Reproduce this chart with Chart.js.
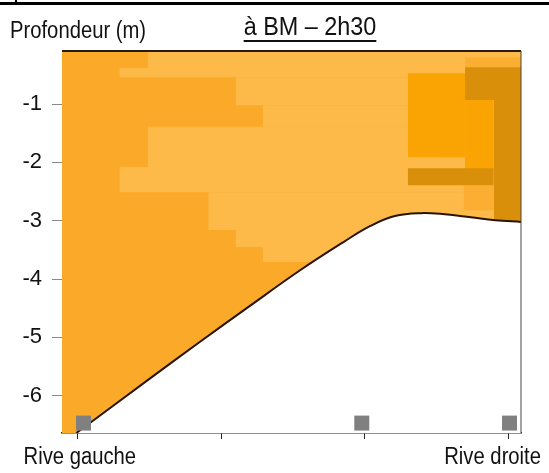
<!DOCTYPE html>
<html lang="fr">
<head>
<meta charset="utf-8">
<title>à BM – 2h30</title>
<script src="https://cdn.jsdelivr.net/npm/chart.js@4.4.1/dist/chart.umd.min.js"></script>
<style>
  body { margin: 0; background: #fff; }
  #wrap { position: relative; width: 549px; height: 473px; }
  #topRule { position: absolute; left: 0; top: 2px; width: 549px; height: 3px; background: #000; }
  #topStub { position: absolute; left: 15px; top: 0; width: 2px; height: 3px; background: #000; }
</style>
</head>
<body>
<div id="wrap">
  <canvas id="sectionChart" width="549" height="473"></canvas>
  <div id="topRule"></div>
  <div id="topStub"></div>
</div>
<script>
// Distance across the section (0 = left bank, 3 = right bank)
const xTicks = [0, 1, 2, 3];
const xTickLabels = ['Rive gauche', '', '', 'Rive droite'];
const depthTicks = [-1, -2, -3, -4, -5, -6];

// Bed profile (depth in m)
const bedX     = [-0.01, 0.49, 0.85, 1.20, 1.55, 1.85, 2.04, 2.21, 2.39, 2.56, 2.74, 2.91, 3.09];
const bedDepth = [-6.64, -5.73, -5.08, -4.46, -3.85, -3.37, -3.09, -2.92, -2.87, -2.89, -2.94, -2.99, -3.02];

// Measurement verticals (grey squares)
const probeX = [0.04, 1.98, 3.01];
const probeDepth = [-6.47, -6.47, -6.47];

// Velocity zones: [x from, x to, depth top, depth bottom, level]
// level 1 = slow (light), 2 = medium, 3 = fast, 4 = fastest (dark)
const zones = [
  [0.49, 3.09, -0.09, -0.54, 1],
  [0.29, 0.49, -0.38, -0.54, 1],
  [1.10, 3.09, -0.54, -1.02, 1],
  [1.29, 3.09, -1.02, -1.39, 1],
  [0.49, 3.09, -1.39, -2.08, 1],
  [0.29, 3.09, -2.08, -2.51, 1],
  [0.91, 3.09, -2.51, -3.16, 1],
  [1.10, 3.09, -3.16, -3.45, 1],
  [1.29, 3.09, -3.45, -3.71, 1],
  [2.70, 3.09, -0.20, -0.37, 2],
  [2.51, 2.70, -1.50, -1.91, 2],
  [2.69, 2.90, -2.39, -2.82, 2],
  [2.30, 2.70, -0.47, -1.91, 3],
  [2.70, 2.90, -0.93, -2.13, 3],
  [2.70, 3.09, -0.37, -0.93, 4],
  [2.90, 3.09, -0.93, -3.10, 4],
  [2.30, 2.90, -2.10, -2.39, 4]
];

const levelColors = ['#FAAA28', '#FDBA48', '#FCAE33', '#F9A402', '#D98F0A'];
const FONT = '"Liberation Sans", Arial, sans-serif';

let sectionChartInstance = null;

// Draw text squeezed horizontally (the original uses a narrow face)
function drawNarrowText(ctx, text, x, y, align, squeeze) {
  ctx.save();
  ctx.translate(x, y);
  ctx.scale(squeeze, 1);
  ctx.textAlign = align;
  ctx.fillText(text, 0, 0);
  ctx.restore();
}

// Background, frame and texts around the plot
const sectionFrame = {
  id: 'sectionFrame',
  beforeDatasetsDraw(chart) {
    const { ctx, chartArea: a } = chart;
    ctx.save();
    ctx.fillStyle = levelColors[0];
    ctx.fillRect(a.left, a.top, a.right - a.left, a.bottom - a.top);
    ctx.restore();
  },
  afterDatasetsDraw(chart) {
    const { ctx, chartArea: a } = chart;
    ctx.save();
    ctx.strokeStyle = '#2b1a0a';
    ctx.lineWidth = 2;
    ctx.beginPath();
    ctx.moveTo(a.left, a.top);
    ctx.lineTo(a.right, a.top);
    ctx.stroke();
    ctx.strokeStyle = '#444';
    ctx.lineWidth = 1;
    ctx.beginPath();
    ctx.moveTo(a.right, a.top);
    ctx.lineTo(a.right, a.bottom);
    ctx.stroke();
    ctx.restore();
  },
  afterDraw(chart) {
    const { ctx } = chart;
    const xScale = chart.scales.x;
    ctx.save();
    ctx.fillStyle = '#111';
    ctx.textBaseline = 'alphabetic';

    ctx.font = '23px ' + FONT;
    drawNarrowText(ctx, 'Profondeur (m)', 10, 38, 'left', 0.88);

    // underlined title
    ctx.font = '26px ' + FONT;
    const title = 'à BM – 2h30';
    const w = ctx.measureText(title).width * 0.9;
    drawNarrowText(ctx, title, 310, 35, 'center', 0.9);
    ctx.fillRect(310 - w / 2, 40, w, 2);

    // bank labels under the x ticks
    ctx.font = '23px ' + FONT;
    xTicks.forEach((v, i) => {
      const label = xTickLabels[i];
      if (!label) return;
      const px = xScale.getPixelForValue(v);
      if (i === xTicks.length - 1) {
        drawNarrowText(ctx, label, chart.width - 8, 464, 'right', 0.88);
      } else {
        drawNarrowText(ctx, label, px + 2, 464, 'center', 0.88);
      }
    });
    ctx.restore();
  }
};

function createSectionChart() {
  const ctx = document.getElementById('sectionChart').getContext('2d');

  if (sectionChartInstance !== null) {
    sectionChartInstance.destroy();
  }

  const zoneSets = zones.map((z, i) => ({
    data: [{ x: z[0], y: z[2] }, { x: z[1], y: z[2] }],
    fill: { value: z[3] },
    backgroundColor: levelColors[z[4]],
    borderWidth: 0,
    pointRadius: 0,
    order: 100 - i
  }));

  const bedSet = {
    data: bedX.map((x, i) => ({ x: x, y: bedDepth[i] })),
    fill: 'start',
    backgroundColor: '#ffffff',
    borderColor: '#2a1405',
    borderWidth: 2,
    pointRadius: 0,
    tension: 0.4,
    order: 1
  };

  const probeSet = {
    data: probeX.map((x, i) => ({ x: x, y: probeDepth[i] })),
    showLine: false,
    pointStyle: 'rect',
    pointRadius: 10.6,
    backgroundColor: '#808080',
    borderWidth: 0,
    order: 0
  };

  sectionChartInstance = new Chart(ctx, {
    type: 'line',
    data: { datasets: [probeSet, bedSet].concat(zoneSets) },
    options: {
      responsive: false,
      animation: false,
      layout: { padding: { top: 51, right: 28, bottom: 0, left: 0 } },
      plugins: {
        legend: { display: false },
        tooltip: { enabled: false },
        title: { display: false }
      },
      scales: {
        x: {
          type: 'linear',
          min: -0.11,
          max: 3.09,
          afterBuildTicks: axis => { axis.ticks = xTicks.map(v => ({ value: v })); },
          afterFit: axis => { axis.height = 40; },
          ticks: { display: false },
          grid: { display: true, drawOnChartArea: false, tickLength: 6, color: '#222' },
          border: { display: true, color: '#222', width: 1.5 }
        },
        y: {
          type: 'linear',
          min: -6.64,
          max: -0.09,
          afterBuildTicks: axis => { axis.ticks = depthTicks.map(v => ({ value: v })); },
          afterFit: axis => { axis.width = 62; },
          ticks: {
            color: '#111',
            padding: 10,
            font: { family: FONT, size: 22 }
          },
          grid: { display: true, drawOnChartArea: false, tickLength: 10, color: '#888' },
          border: { display: false }
        }
      }
    },
    plugins: [sectionFrame]
  });
}

document.addEventListener('DOMContentLoaded', () => {
  createSectionChart();
});
</script>
</body>
</html>
